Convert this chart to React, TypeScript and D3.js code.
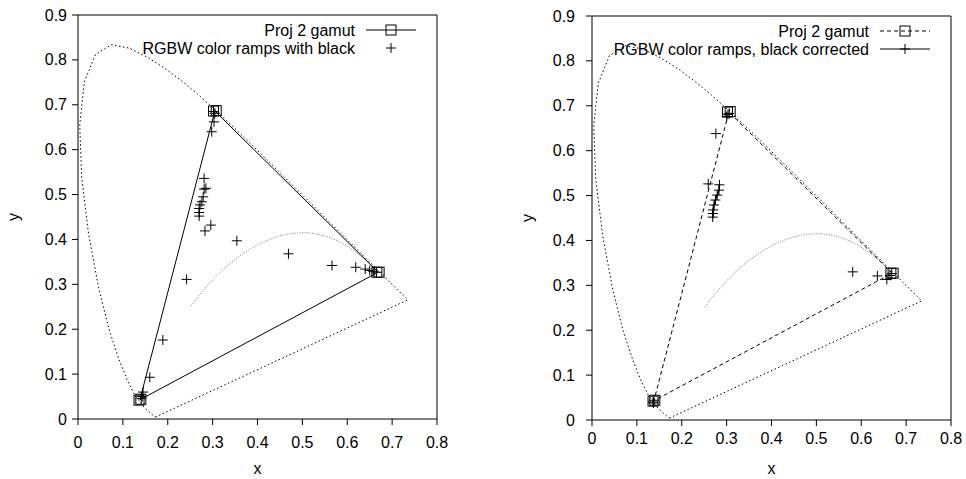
import * as d3 from 'd3';

type Pt = [number, number];

// CIE 1931 spectral locus (380..700 nm) - closed by the purple line
const spectralLocus: Pt[] = [
  [0.1741, 0.0050], [0.1733, 0.0048], [0.1714, 0.0051], [0.1689, 0.0069],
  [0.1644, 0.0109], [0.1566, 0.0177], [0.1440, 0.0297], [0.1241, 0.0578],
  [0.1096, 0.0868], [0.0913, 0.1327], [0.0687, 0.2007], [0.0454, 0.2950],
  [0.0235, 0.4127], [0.0082, 0.5384], [0.0039, 0.6548], [0.0139, 0.7502],
  [0.0389, 0.8120], [0.0743, 0.8338], [0.1142, 0.8262], [0.1547, 0.8059],
  [0.1929, 0.7816], [0.2296, 0.7543], [0.2658, 0.7243], [0.3016, 0.6923],
  [0.3373, 0.6589], [0.3731, 0.6245], [0.4087, 0.5896], [0.4441, 0.5547],
  [0.4788, 0.5202], [0.5125, 0.4866], [0.5448, 0.4544], [0.5752, 0.4242],
  [0.6029, 0.3965], [0.6270, 0.3725], [0.6482, 0.3514], [0.6658, 0.3340],
  [0.6915, 0.3083], [0.7079, 0.2920], [0.7190, 0.2809], [0.7260, 0.2740],
  [0.7300, 0.2700], [0.7334, 0.2666], [0.7347, 0.2653], [0.1741, 0.0050],
];

// Planckian locus, 25000 K down to 1000 K
const planckLocus: Pt[] = [
  [0.2525, 0.2523], [0.2565, 0.2577], [0.2637, 0.2681], [0.2719, 0.2782],
  [0.2807, 0.2884], [0.2869, 0.2956], [0.2952, 0.3048], [0.3064, 0.3166],
  [0.3135, 0.3237], [0.3221, 0.3318], [0.3325, 0.3411], [0.3451, 0.3516],
  [0.3608, 0.3636], [0.3805, 0.3768], [0.4053, 0.3907], [0.4369, 0.4041],
  [0.4476, 0.4074], [0.4770, 0.4137], [0.5056, 0.4152], [0.5267, 0.4133],
  [0.5497, 0.4081], [0.5732, 0.3993], [0.5857, 0.3931], [0.5985, 0.3858],
  [0.6251, 0.3674], [0.6528, 0.3444],
];

// Proj 2 gamut (R, G, B, R) and a second measurement of the primaries
const gamut: Pt[] = [[0.669, 0.327], [0.305, 0.686], [0.138, 0.043], [0.669, 0.327]];
const gamutMarks: Pt[] = [
  [0.666, 0.327], [0.671, 0.327],
  [0.302, 0.686], [0.308, 0.687],
  [0.136, 0.042], [0.140, 0.044],
];

// RGBW color ramps with black
const rampsWithBlack: Pt[] = [
  [0.302, 0.685], [0.305, 0.681], [0.303, 0.662], [0.298, 0.640],
  [0.281, 0.536], [0.285, 0.514], [0.281, 0.512], [0.279, 0.495],
  [0.276, 0.484], [0.272, 0.477], [0.270, 0.469], [0.270, 0.460],
  [0.270, 0.452], [0.296, 0.432], [0.283, 0.419], [0.354, 0.397],
  [0.469, 0.368], [0.566, 0.342], [0.619, 0.338], [0.640, 0.334],
  [0.650, 0.331], [0.658, 0.329], [0.665, 0.327],
  [0.242, 0.311], [0.189, 0.176], [0.160, 0.093], [0.145, 0.060],
  [0.143, 0.050], [0.141, 0.046],
];

// RGBW color ramps, black corrected (each inner list is one connected run)
const rampsCorrected: Pt[][] = [
  [[0.284, 0.524], [0.283, 0.512], [0.279, 0.501], [0.275, 0.490],
   [0.272, 0.479], [0.270, 0.468], [0.2696, 0.460], [0.269, 0.452]],
  [[0.259, 0.526]], [[0.276, 0.638]], [[0.300, 0.676]], [[0.303, 0.681]], [[0.306, 0.683]],
  [[0.581, 0.330]], [[0.636, 0.321]], [[0.657, 0.313]], [[0.664, 0.322]], [[0.668, 0.326]],
  [[0.136, 0.040]], [[0.138, 0.044]], [[0.137, 0.038]],
];

const xTicks = [0, 0.1, 0.2, 0.3, 0.4, 0.5, 0.6, 0.7, 0.8];
const xTickLabels = ['0', '0.1', '0.2', '0.3', '0.4', '0.5', '0.6', '0.7', '0.8'];
const yTicks = [0, 0.1, 0.2, 0.3, 0.4, 0.5, 0.6, 0.7, 0.8, 0.9];
const yTickLabels = ['0', '0.1', '0.2', '0.3', '0.4', '0.5', '0.6', '0.7', '0.8', '0.9'];

const FONT = '"Liberation Sans", Arial, Helvetica, sans-serif';

function Cross({ x, y }: { x: number; y: number }) {
  return <path d={`M${x - 5},${y}H${x + 5}M${x},${y - 5}V${y + 5}`} stroke="#000" strokeWidth={1} fill="none" />;
}
function Square({ x, y }: { x: number; y: number }) {
  return <rect x={x - 5} y={y - 5} width={10} height={10} stroke="#000" strokeWidth={1} fill="none" />;
}

interface PanelProps {
  left: number; right: number; top: number; bottom: number;
  yLabelGap: number; xLabelGap: number;
  gamutDash?: string;
  title2: string;
  corrected: boolean;
}

function Panel({ left, right, top, bottom, yLabelGap, xLabelGap, gamutDash, title2, corrected }: PanelProps) {
  const x = d3.scaleLinear().domain([0, 0.8]).range([left, right]);
  const y = d3.scaleLinear().domain([0, 0.9]).range([bottom, top]);
  const line = d3.line<Pt>().x(d => x(d[0])).y(d => y(d[1]));
  const legX = right - 46;
  const legTextX = right - 82;
  const row1 = top + 15;
  const row2 = top + 33;
  return (
    <g fontFamily={FONT} fontSize={16}>
      <path d={line(spectralLocus) ?? ''} fill="none" stroke="#000" strokeWidth={1} strokeDasharray="1.5,2.5" />
      <path d={line(planckLocus) ?? ''} fill="none" stroke="#777" strokeWidth={1} strokeDasharray="1,1.5" />
      <path d={line(gamut) ?? ''} fill="none" stroke="#000" strokeWidth={1} strokeDasharray={gamutDash} />
      {gamutMarks.map((p, j) => <Square key={j} x={x(p[0])} y={y(p[1])} />)}
      {!corrected && rampsWithBlack.map((p, i) => <Cross key={i} x={x(p[0])} y={y(p[1])} />)}
      {corrected && rampsCorrected.map((run, i) => (
        <g key={i}>
          {run.length > 1 && <path d={line(run) ?? ''} fill="none" stroke="#000" strokeWidth={1.5} />}
          {run.map((p, j) => <Cross key={j} x={x(p[0])} y={y(p[1])} />)}
        </g>
      ))}
      {/* axes */}
      <path d={`M${left},${top}H${right}V${bottom}H${left}Z`} fill="none" stroke="#000" strokeWidth={1} />
      {xTicks.map((t, i) => (
        <g key={i}>
          <line x1={x(t)} x2={x(t)} y1={bottom} y2={bottom + 6} stroke="#000" />
          <text x={x(t)} y={bottom + xLabelGap} textAnchor="middle" dy="0.35em">{xTickLabels[i]}</text>
        </g>
      ))}
      {yTicks.map((t, i) => (
        <g key={i}>
          <line x1={left - 6} x2={left} y1={y(t)} y2={y(t)} stroke="#000" />
          <text x={left - yLabelGap} y={y(t)} textAnchor="end" dy="0.35em">{yTickLabels[i]}</text>
        </g>
      ))}
      <text x={(left + right) / 2} y={468} textAnchor="middle" dy="0.35em">x</text>
      <text transform={`translate(${left - 65},${(top + bottom) / 2}) rotate(-90)`} textAnchor="middle" dy="0.35em">y</text>
      {/* legend */}
      <g fontSize={16}>
        <text x={legTextX} y={row1} textAnchor="end" dy="0.35em">Proj 2 gamut</text>
        <line x1={legX - 25} x2={legX + 25} y1={row1} y2={row1} stroke="#000" strokeDasharray={gamutDash} />
        <Square x={legX} y={row1} />
        <text x={legTextX} y={row2} textAnchor="end" dy="0.35em">{title2}</text>
        {corrected && <line x1={legX - 25} x2={legX + 25} y1={row2} y2={row2} stroke="#000" />}
        <Cross x={legX} y={row2} />
      </g>
    </g>
  );
}

export default function App() {
  return (
    <svg width={966} height={479} style={{ position: 'absolute', left: 0, top: 0, background: '#fff' }}>
      <rect width={966} height={479} fill="#fff" />
      <Panel left={78} right={437} top={15} bottom={419} yLabelGap={11} xLabelGap={23}
        title2="RGBW color ramps with black" corrected={false} />
      <Panel left={592} right={951} top={16} bottom={420} yLabelGap={17} xLabelGap={18}
        gamutDash="4,3" title2="RGBW color ramps, black corrected" corrected={true} />
    </svg>
  );
}
